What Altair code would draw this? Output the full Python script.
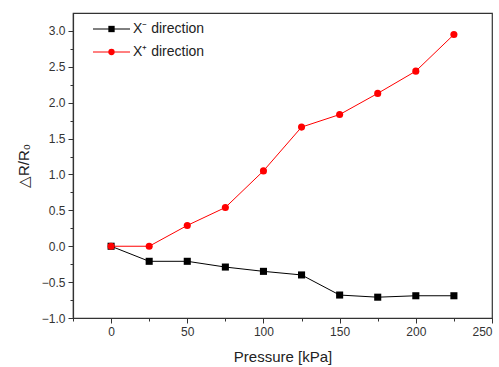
import altair as alt
import pandas as pd

pressure = [0, 25, 50, 75, 100, 125, 150, 175, 200, 225]
x_minus = [0.0, -0.21, -0.21, -0.29, -0.35, -0.40, -0.68, -0.71, -0.69, -0.69]
x_plus = [0.0, 0.0, 0.29, 0.54, 1.05, 1.66, 1.835, 2.13, 2.44, 2.95]
series_names = ["X\u207b direction", "X\u207a direction"]
series_colors = ["#000000", "#ff0000"]

x_major = [0, 50, 100, 150, 200, 250]
x_minor = [-25, 25, 75, 125, 175, 225]
y_major = [-1.0, -0.5, 0.0, 0.5, 1.0, 1.5, 2.0, 2.5, 3.0]
y_minor = [-0.75, -0.25, 0.25, 0.75, 1.25, 1.75, 2.25, 2.75]

rows = []
for p, v in zip(pressure, x_minus):
    rows.append({"pressure": p, "value": v, "series": series_names[0]})
for p, v in zip(pressure, x_plus):
    rows.append({"pressure": p, "value": v, "series": series_names[1]})
df = pd.DataFrame(rows)

FONT = "Liberation Sans"
xscale = alt.Scale(domain=[-25, 250], nice=False, zero=False)
yscale = alt.Scale(domain=[-1, 3.25], nice=False, zero=False)

x_axis_major = alt.Axis(values=x_major, format="d", title="Pressure [kPa]", grid=False,
                        tickSize=5, labelPadding=3, titlePadding=12, orient="bottom")
y_axis_major = alt.Axis(values=y_major, format=".1f", title="\u25b3R/R\u2080", grid=False,
                        tickSize=5, labelPadding=3, titlePadding=10, orient="left")
x_axis_minor = alt.Axis(values=x_minor, labels=False, title=None, grid=False, domain=False,
                        tickSize=3, orient="bottom")
y_axis_minor = alt.Axis(values=y_minor, labels=False, title=None, grid=False, domain=False,
                        tickSize=3, orient="left")

minor = alt.Chart(df).mark_line(opacity=0).encode(
    x=alt.X("pressure:Q", scale=xscale, axis=x_axis_minor),
    y=alt.Y("value:Q", scale=yscale, axis=y_axis_minor),
    detail="series:N",
)

base = alt.Chart(df)
x_enc = alt.X("pressure:Q", scale=xscale, axis=x_axis_major)
y_enc = alt.Y("value:Q", scale=yscale, axis=y_axis_major)

lines = base.mark_line(strokeWidth=1).encode(
    x=x_enc, y=y_enc,
    color=alt.Color("series:N", scale=alt.Scale(domain=series_names, range=series_colors), legend=None),
)
squares = base.transform_filter(alt.datum.series == series_names[0]).mark_square(
    size=50, color="#000000", opacity=1).encode(x=x_enc, y=y_enc)
circles = base.transform_filter(alt.datum.series == series_names[1]).mark_circle(
    size=50, color="#ff0000", opacity=1).encode(x=x_enc, y=y_enc)

# legend (drawn in pixel space inside the plot area)
legend_layers = []
marker_shapes = ["square", "circle"]
for i, (name, col, shp) in enumerate(zip(series_names, series_colors, marker_shapes)):
    ypix = 16 + 23 * i
    ldf = pd.DataFrame({"series": [name]})
    lc = alt.Chart(ldf)
    legend_layers.append(lc.mark_rule(color=col, strokeWidth=1).encode(
        x=alt.value(20), x2=alt.value(57), y=alt.value(ypix)))
    legend_layers.append(lc.mark_point(shape=shp, filled=True, size=40, color=col, opacity=1).encode(
        x=alt.value(38.5), y=alt.value(ypix)))
    legend_layers.append(lc.mark_text(align="left", baseline="middle", font=FONT, fontSize=14,
                                      color="#222222").encode(
        x=alt.value(60), y=alt.value(ypix), text="series:N"))

main = alt.layer(lines, squares, circles, *legend_layers)

chart = alt.layer(minor, main).resolve_axis(x="independent", y="independent").properties(
    width=419, height=305,
    autosize=alt.AutoSizeParams(type="none"),
    padding={"left": 73, "top": 13, "right": 7, "bottom": 49},
    background="white",
).configure_view(stroke="#333333", strokeWidth=1.2).configure_axis(
    domainColor="#333333", tickColor="#333333", labelColor="#333333", titleColor="#222222",
    labelFont=FONT, titleFont=FONT, labelFontSize=12, titleFontSize=15, titleFontWeight="normal",
    domainWidth=1.2,
)

chart.save("out.html", embed_options={"renderer": "svg", "actions": False})
